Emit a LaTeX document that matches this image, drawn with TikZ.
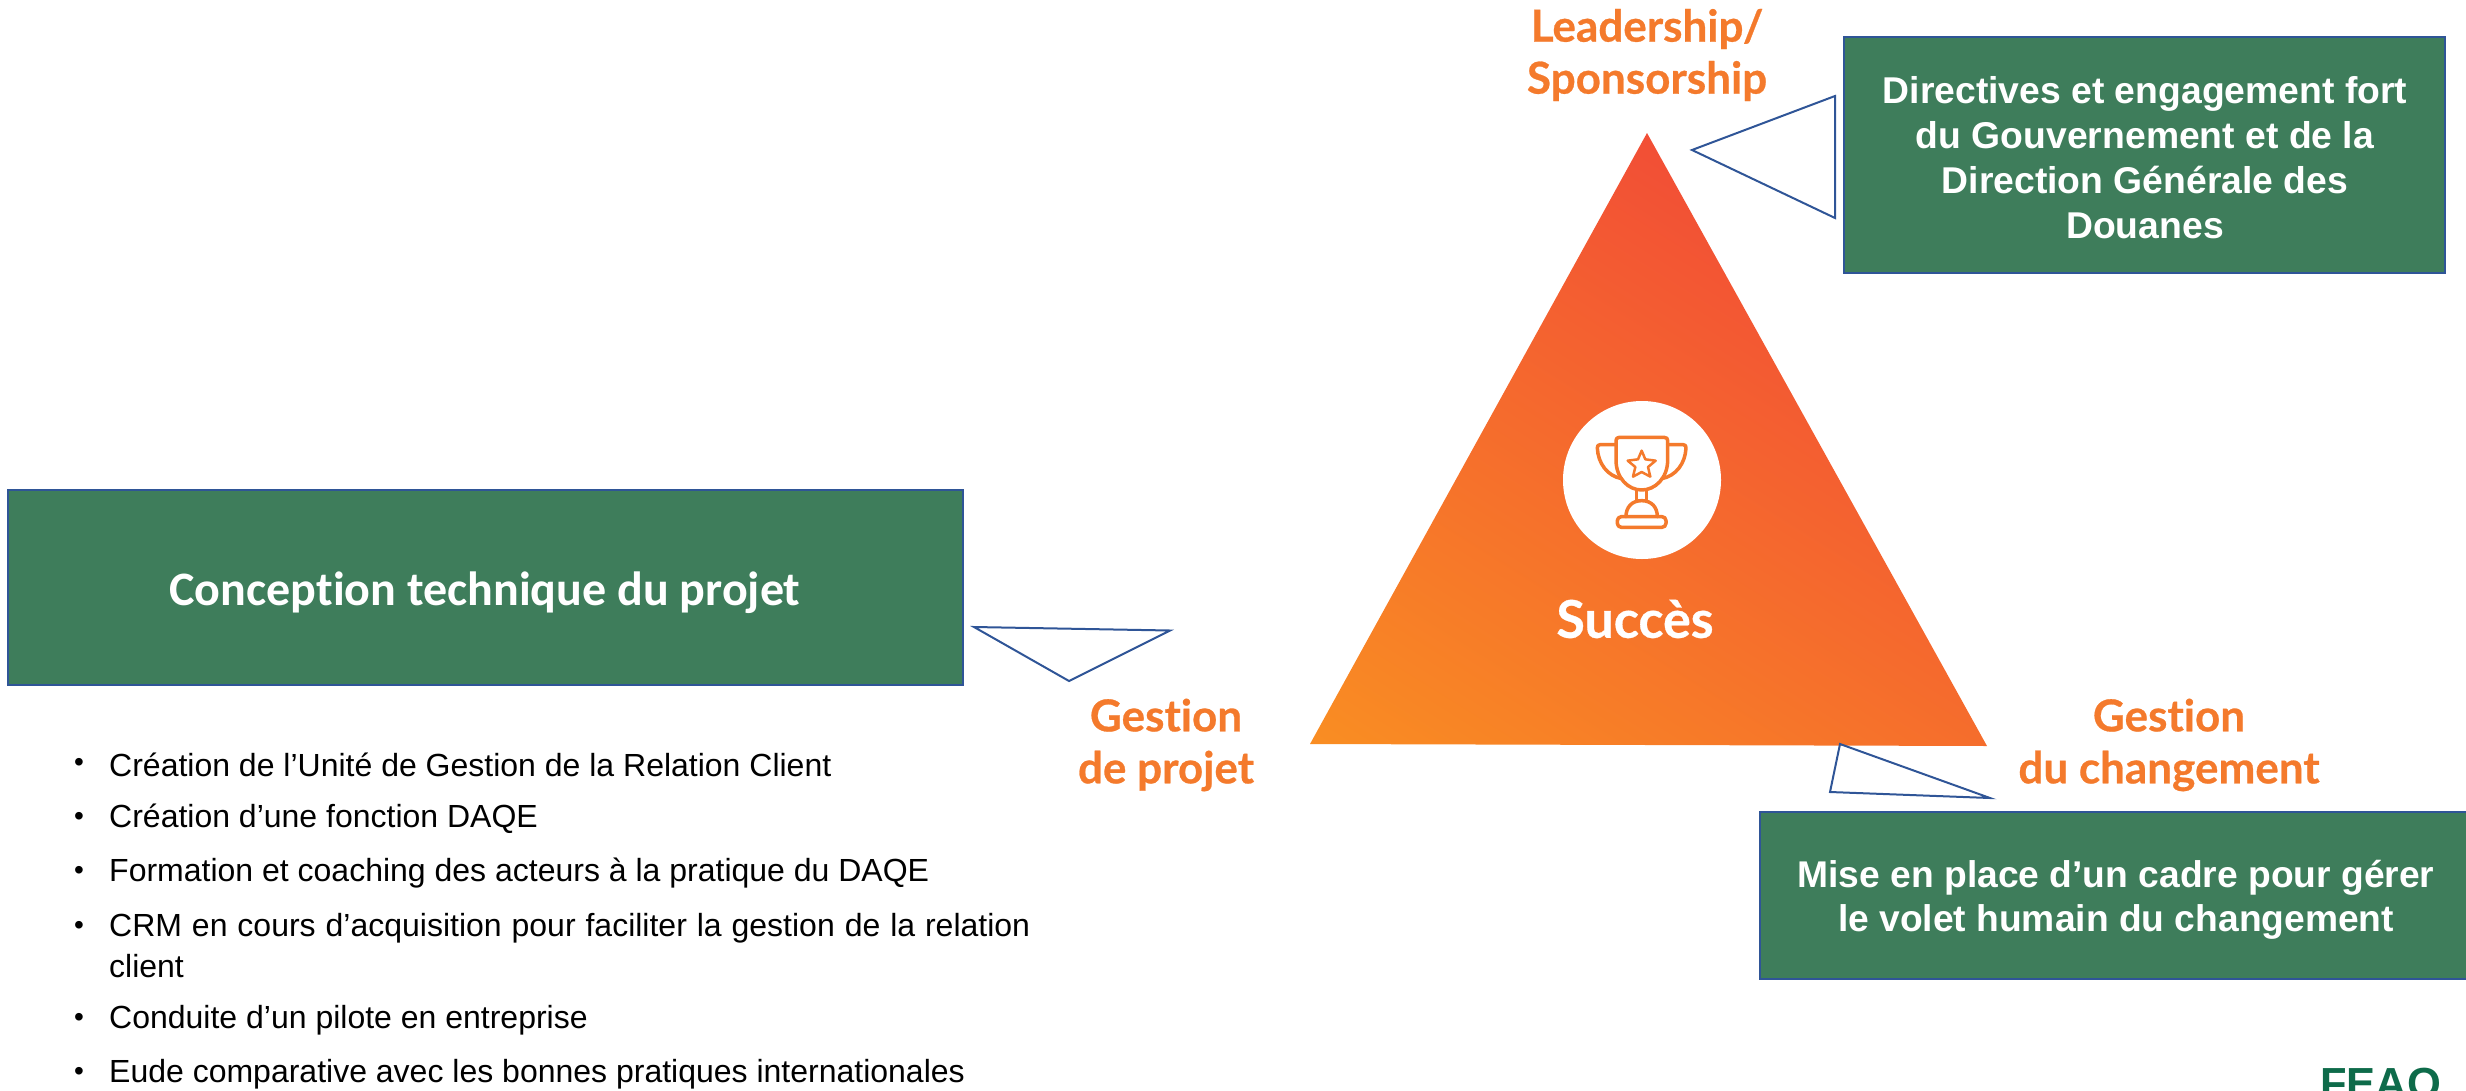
\documentclass[tikz,border=0pt]{standalone}
\usepackage{fontspec}
\setmainfont{Liberation Sans}
\newfontfamily\carl[Ligatures=NoCommon]{Carlito}
\newfontfamily\lbl[Ligatures=NoCommon,BoldFeatures={FakeBold=0.6}]{Lato}
\definecolor{boxgreen}{HTML}{3E7D5B}
\definecolor{boxedge}{HTML}{2F5597}
\definecolor{lblorange}{HTML}{F47A2C}
\definecolor{feao}{HTML}{0E6B4A}
\definecolor{triA}{HTML}{FB9C1E}
\definecolor{triB}{HTML}{F5692B}
\definecolor{triC}{HTML}{F0403A}
\tikzset{
  x=1pt,y=-1pt,
  greenbox/.style={draw=boxedge,line width=2pt,fill=boxgreen},
  boxtext/.style={text=white,align=center,inner sep=0pt},
  callout/.style={draw=boxedge,line width=2pt,line join=miter},
  lbltext/.style={text=lblorange,align=center,font=\fontsize{44}{52}\selectfont\lbl\bfseries,inner sep=0pt},
  bullettext/.style={anchor=west,inner sep=0pt,font=\fontsize{32}{41}\selectfont},
  bulletdot/.style={anchor=center,inner sep=0pt,font=\fontsize{28}{37}\selectfont},
  trophy/.style={draw=lblorange,line width=3.5,line join=round,line cap=round}
}
\begin{document}
\begin{tikzpicture}
\useasboundingbox (0,0) rectangle (2466,1090);
\clip (0,0) rectangle (2466,1090);
% triangle
\coordinate (apex) at (1647,133);
\coordinate (bl) at (1310,744);
\coordinate (br) at (1987,746);
\begin{scope}
\clip (apex) -- (br) -- (bl) -- cycle;
\shade[shading=axis,bottom color=triA,middle color=triB,top color=triC,shading angle=-32] (1092,7) rectangle (2108,1023);
\end{scope}
% trophy
\node[circle,fill=white,minimum size=158pt,inner sep=0pt] (disc) at (1642,480) {};
\begin{scope}[shift={(1520,400)},x=0.3333pt,y=-0.3333pt]
\draw[trophy] (298,112) -- (432,112) .. controls (440,112) and (443,116) .. (443,122) -- (443,180) .. controls (443,235) and (405,270) .. (365,270) .. controls (325,270) and (288,235) .. (288,180) -- (288,122) .. controls (288,116) and (291,112) .. (298,112) -- cycle;
\draw[trophy] (288,134) -- (240,134) .. controls (234,134) and (232,138) .. (232,144) .. controls (234,190) and (262,228) .. (305,236);
\draw[trophy] (443,134) -- (490,134) .. controls (496,134) and (498,138) .. (498,144) .. controls (496,190) and (468,228) .. (425,236);
\draw[trophy] (350,270) -- (350,302) (380,270) -- (380,302);
\draw[trophy] (318,350) .. controls (318,322) and (335,302) .. (365,302) .. controls (395,302) and (412,322) .. (412,350);
\draw[trophy,rounded corners=4] (292,350) rectangle (438,382);
\draw[trophy,line width=2.5] (365,152) -- (376,178) -- (407,182) -- (384,201) -- (391,230) -- (365,216) -- (339,230) -- (346,201) -- (323,182) -- (354,178) -- cycle;
\end{scope}
\node[inner sep=0pt,text=white,font=\fontsize{52}{60}\selectfont\lbl\bfseries] (succes) at (1635,619) {Succès};
% green boxes
\node[greenbox,minimum width=601pt,minimum height=236pt,inner sep=0pt] (boxtop) at (2144.5,155) {};
\node[boxtext,font=\fontsize{37.3}{45}\selectfont\bfseries] (txttop) at (2145,158) {Directives et engagement fort\\du Gouvernement et de la\\Direction Générale des\\Douanes};
\node[greenbox,minimum width=955pt,minimum height=195pt,inner sep=0pt] (boxleft) at (485.5,587.5) {};
\node[text=white,inner sep=0pt,font=\fontsize{48}{56}\selectfont\carl\bfseries] (txtleft) at (485,593) {Conception technique du projet};
\node[greenbox,minimum width=720pt,minimum height=167pt,inner sep=0pt] (boxbot) at (2120,895.5) {};
\node[boxtext,font=\fontsize{37.2}{44.5}\selectfont\bfseries] (txtbot) at (2116,900) {Mise en place d’un cadre pour gérer\\le volet humain du changement};
% callouts
\coordinate (t1a) at (1692,150); \coordinate (t1b) at (1835,96); \coordinate (t1c) at (1835,218);
\draw[callout] (t1a) -- (t1b) -- (t1c) -- cycle;
\coordinate (t2a) at (974,627); \coordinate (t2b) at (1170,630.5); \coordinate (t2c) at (1069,681);
\draw[callout] (t2a) -- (t2b) -- (t2c) -- cycle;
\coordinate (t3a) at (1840,744); \coordinate (t3b) at (1830,792); \coordinate (t3c) at (1990,798);
\draw[callout] (t3a) -- (t3b) -- (t3c) -- cycle;
% labels
\node[lbltext] (lead) at (1647,55) {Leadership/\\Sponsorship};
\node[lbltext] (gp) at (1166,745) {Gestion\\de projet};
\node[lbltext] (gc) at (2169,745) {Gestion\\du changement};
% bullets
\foreach \n/\yy/\tt in {a/764.5/{Création de l’Unité de Gestion de la Relation Client},b/819/{Création d’une fonction DAQE},c/873/{Formation et coaching des acteurs à la pratique du DAQE},e/1020/{Conduite d’un pilote en entreprise},f/1074/{Eude comparative avec les bonnes pratiques internationales}}{
  \node[bullettext] (item\n) at (109,\yy) {\tt};
  \node[bulletdot] (dot\n) at (79,\yy) {•};
}
\node[bulletdot] (dotd) at (79,928) {•};
\node[bullettext,anchor=north west,text width=921pt,align=justify] (itemd) at (109,913) {CRM en cours d’acquisition pour faciliter la gestion de la relation client};
% logo
\node[anchor=base west,inner sep=0pt,text=feao,font=\fontsize{43.5}{43.5}\selectfont\bfseries] (logo) at (2320,1098) {FEAO};
\end{tikzpicture}
\end{document}
